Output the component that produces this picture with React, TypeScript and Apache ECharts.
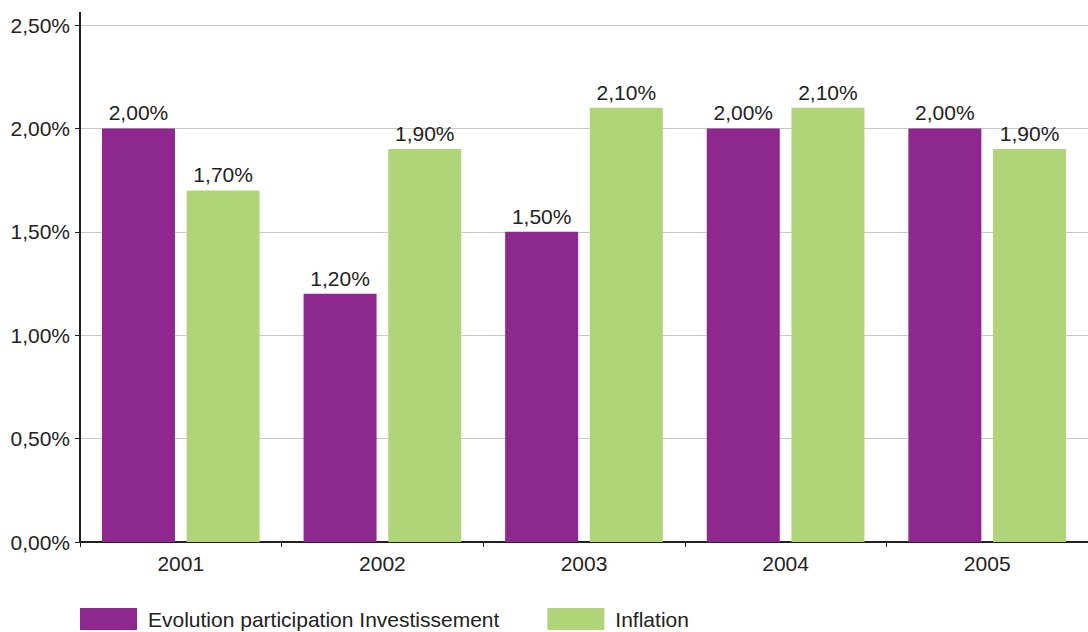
import React, { useEffect, useRef } from "react";
import * as echarts from "echarts";

const years = ["2001", "2002", "2003", "2004", "2005"];
const investissement = [2.0, 1.2, 1.5, 2.0, 2.0];
const inflation = [1.7, 1.9, 2.1, 2.1, 1.9];
const seriesNames = ["Evolution participation Investissement", "Inflation"];
const colors = ["#8E278E", "#B0D578"];

const pct = (v: number) => v.toFixed(2).replace(".", ",") + "%";
const FONT = "'Liberation Sans', Arial, sans-serif";
const FS = 21;

export default function App() {
  const ref = useRef<HTMLDivElement>(null);

  useEffect(() => {
    if (!ref.current) return;
    const chart = echarts.init(ref.current, null, { renderer: "svg" });
    const labelStyle = {
      show: true,
      position: "top" as const,
      distance: 5,
      color: "#222",
      fontSize: FS,
      fontFamily: FONT,
      formatter: (p: any) => pct(p.value),
    };
    chart.setOption({
      animation: false,
      textStyle: { fontFamily: FONT },
      grid: { left: 80, right: -4, top: 25, bottom: 90, containLabel: false },
      legend: {
        left: 80,
        top: 608,
        padding: 0,
        itemWidth: 57,
        itemHeight: 22,
        itemGap: 48,
        icon: "rect",
        textStyle: { fontSize: FS, color: "#222", fontFamily: FONT, padding: [0, 0, 0, 6] },
        data: seriesNames,
      },
      xAxis: {
        type: "category",
        data: years,
        axisLine: { lineStyle: { color: "#222", width: 2 } },
        axisTick: { show: true, length: 5, lineStyle: { color: "#222", width: 1 } },
        axisLabel: { color: "#222", fontSize: FS, margin: 11, fontFamily: FONT },
      },
      yAxis: {
        type: "value",
        min: 0,
        max: 2.5,
        interval: 0.5,
        axisLine: { show: true, lineStyle: { color: "#222", width: 2 } },
        axisTick: { show: true, length: 5, lineStyle: { color: "#222", width: 1 } },
        axisLabel: { color: "#222", fontSize: FS, margin: 10, fontFamily: FONT, formatter: (v: number) => pct(v) },
        splitLine: { lineStyle: { color: "#c8c8c8", width: 1 } },
      },
      graphic: [
        {
          type: "line",
          shape: { x1: 80, y1: 12, x2: 80, y2: 25 },
          style: { stroke: "#222", lineWidth: 2 },
          z: 10,
        },
      ],
      series: [
        {
          name: seriesNames[0],
          type: "bar",
          data: investissement,
          barWidth: 73,
          barGap: "16%",
          itemStyle: { color: colors[0] },
          label: labelStyle,
        },
        {
          name: seriesNames[1],
          type: "bar",
          data: inflation,
          barWidth: 73,
          barGap: "16%",
          itemStyle: { color: colors[1] },
          label: labelStyle,
        },
      ],
    });
    return () => chart.dispose();
  }, []);

  return <div ref={ref} style={{ width: 1088, height: 632, position: "absolute", left: 0, top: 0 }} />;
}
